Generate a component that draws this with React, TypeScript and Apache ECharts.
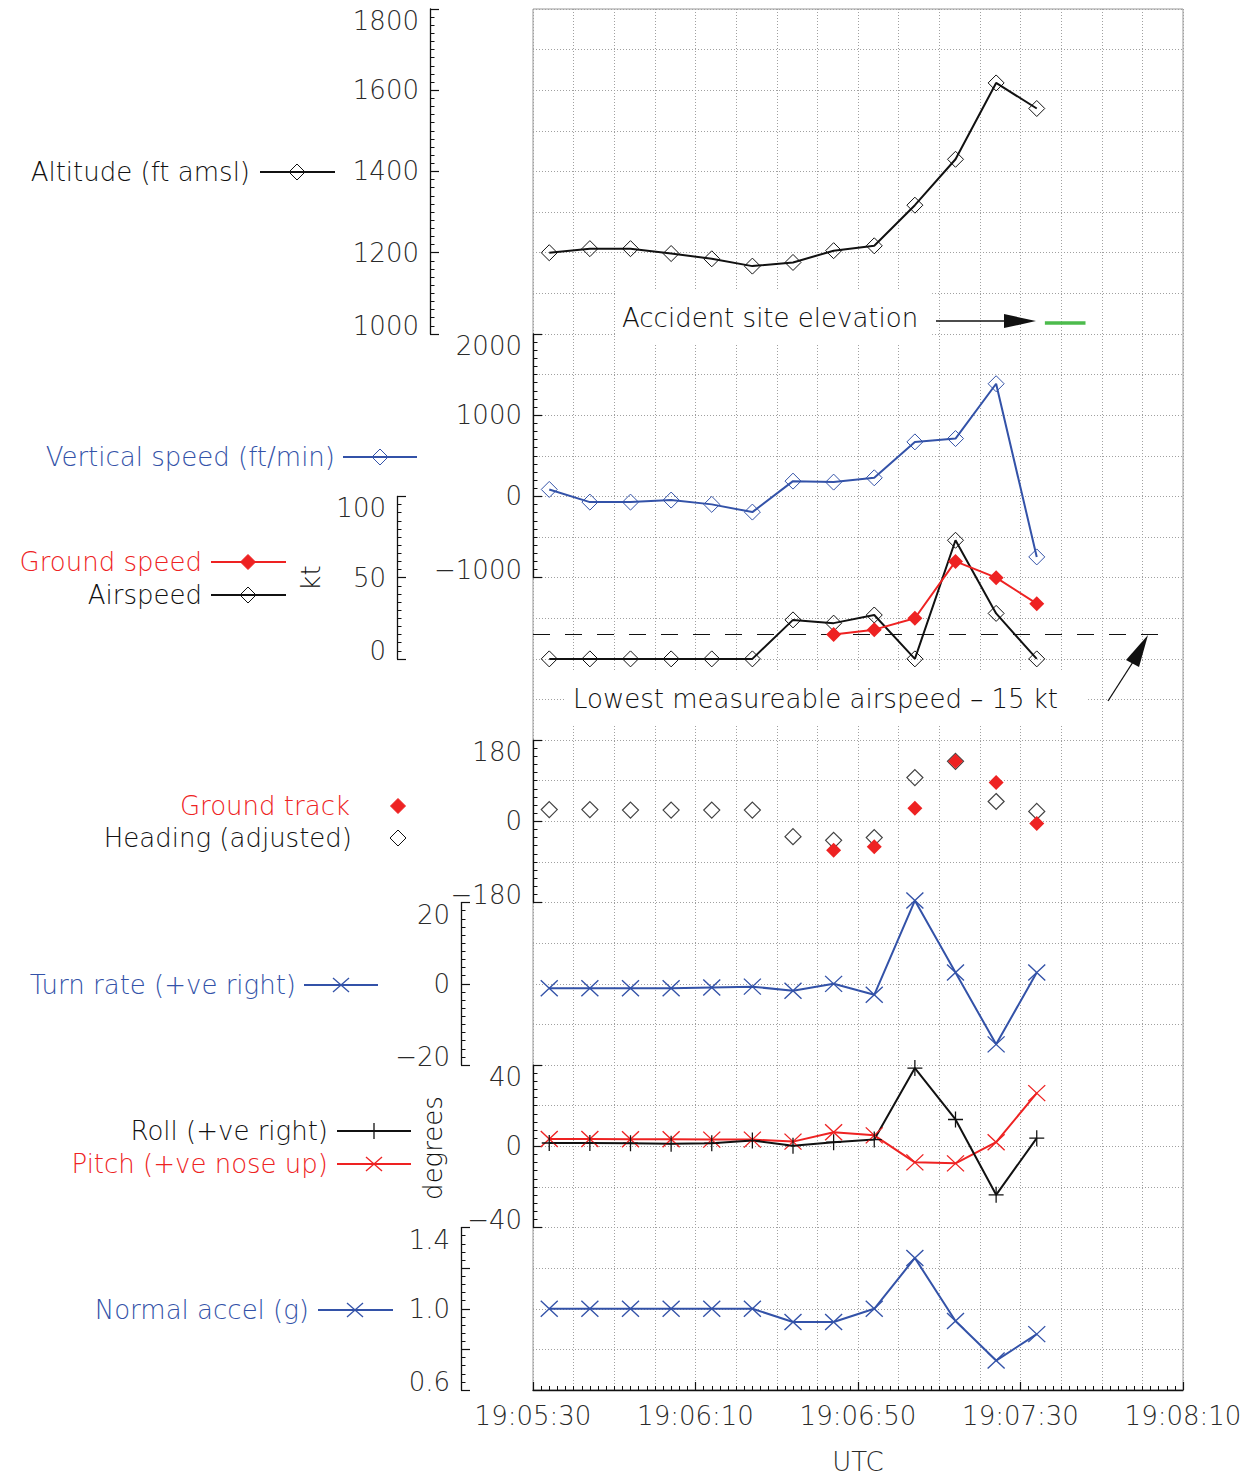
import React, { useEffect, useRef } from 'react';
import * as echarts from 'echarts';

// seconds after 19:05:30
const TIMES = [4, 14, 24, 34, 44, 54, 64, 74, 84, 94, 104, 114, 124];
const ALTITUDE = [1200, 1210, 1210, 1198, 1185, 1167, 1176, 1205, 1217, 1317, 1430, 1618, 1555];
const VERTICAL_SPEED = [86, -70, -70, -45, -98, -193, 188, 176, 229, 671, 712, 1387, -745];
const AIRSPEED = [0, 0, 0, 0, 0, 0, 24, 22, 27, 0, 73, 28, 0];
const GROUND_SPEED = [null, null, null, null, null, null, null, 15, 18, 25, 60, 50, 34];
const HEADING = [26, 26, 25, 25, 25, 25, -34, -42, -36, 97, 133, 44, 22];
const GROUND_TRACK = [null, null, null, null, null, null, null, -64, -56, 29, 133, 86, -5];
const TURN_RATE = [-1.1, -1.1, -1.1, -1.1, -0.9, -0.7, -1.7, 0, -2.7, 20.5, 2.8, -14.9, 2.8];
const ROLL = [1.6, 1.6, 1.5, 1.3, 1.5, 2.8, 0.3, 2.0, 3.3, 38.5, 13.2, -23.9, 4.0];
const PITCH = [3.6, 3.6, 3.5, 3.5, 3.3, 3.3, 2.3, 6.9, 5.4, -7.9, -8.4, 2.0, 26.2];
const NORMAL_ACCEL = [1.0, 1.0, 1.0, 1.0, 1.0, 1.0, 0.935, 0.935, 1.0, 1.25, 0.94, 0.745, 0.875];

const ACCIDENT_SITE_ELEVATION = 1027;
const ACCIDENT_SITE_TIMES = [126, 136];
const LOWEST_AIRSPEED = 15;
const LOWEST_AIRSPEED_TIMES = [0, 156];

const X_TICK_LABELS = ['19:05:30', '19:06:10', '19:06:50', '19:07:30', '19:08:10'];

const FONT = '"DejaVu Sans", sans-serif';
const FW = 200;
const FS = 26;
const BLACK = '#111111';
const BLUE = '#3352a8';
const RED = '#ee2222';
const GREEN = '#4cbb4c';
const LABEL = '#2a2a2a';

const W = 1255;
const H = 1477;
const PLOT_LEFT = 533;
const PLOT_RIGHT_EDGE = 1183;
const PLOT_TOP = 9;
const U = 1381 / 34;

const pairs = (vals: (number | null)[]) =>
  TIMES.map((t, i) => [t, vals[i]]).filter((p) => p[1] !== null && p[1] !== undefined);

const X_PATH = 'path://M0,0L16,15M16,0L0,15';
const PLUS_PATH = 'path://M8,0L8,16M0,8L16,8';

function makeGrid(topU: number, hU: number, extra: any = {}) {
  return {
    left: PLOT_LEFT,
    right: W - PLOT_RIGHT_EDGE,
    top: PLOT_TOP + topU * U,
    height: hU * U,
    containLabel: false,
    outerBoundsMode: 'none',
    ...extra,
  };
}

function makeY(
  gridIndex: number,
  min: number,
  max: number,
  interval: number,
  offset: number,
  minorSplit: number,
  fmt: (v: number) => string,
  showOnly?: number[]
) {
  const richBase = { fontSize: FS, fontFamily: FONT, fontWeight: FW, color: LABEL };
  return {
    type: 'value',
    gridIndex,
    min,
    max,
    interval,
    offset,
    position: 'left',
    axisLine: { show: true, onZero: false, lineStyle: { color: BLACK, width: 1.3 } },
    axisTick: { show: true, inside: true, length: 9, lineStyle: { color: BLACK, width: 1.2 } },
    minorTick: { show: true, splitNumber: minorSplit, length: 4.5, lineStyle: { color: BLACK, width: 1 } },
    splitLine: { show: false },
    axisLabel: {
      show: true,
      margin: 11,
      color: LABEL,
      fontSize: FS,
      fontFamily: FONT,
      fontWeight: FW,
      formatter: (v: number) => {
        if (showOnly && !showOnly.some((s) => Math.abs(s - v) < 1e-6)) return '';
        const s = fmt(v).replace('-', '\u2212');
        if (Math.abs(v - max) < 1e-6) return `{t|${s}}`;
        if (Math.abs(v - min) < 1e-6) return `{b|${s}}`;
        return s;
      },
      rich: {
        t: { ...richBase, padding: [24, 0, 0, 0] },
        b: { ...richBase, padding: [0, 0, 16, 0] },
      },
    },
  };
}

function hiddenX(gridIndex: number) {
  return { type: 'value', gridIndex, min: 0, max: 160, show: false, axisLine: { onZero: false } };
}

const hollow = (c: string) => ({ color: 'transparent', borderColor: c, borderWidth: 1 });

function txt(text: string, x: number, y: number, color: string, align = 'right', extra: any = {}, rotation = 0) {
  return {
    type: 'text',
    x,
    y,
    z: 50,
    rotation,
    style: {
      text,
      fill: color,
      font: `${FW} ${FS}px ${FONT}`,
      align,
      verticalAlign: 'middle',
      textAlign: align,
      textVerticalAlign: 'middle',
      ...extra,
    },
  };
}
function seg(x1: number, y1: number, x2: number, y2: number, color: string, w = 2) {
  return { type: 'line', z: 50, shape: { x1, y1, x2, y2 }, style: { stroke: color, lineWidth: w } };
}
function dia(x: number, y: number, color: string, filled: boolean, r = 8) {
  return {
    type: 'polygon',
    z: 51,
    shape: { points: [[x, y - r], [x + r, y], [x, y + r], [x - r, y]] },
    style: { fill: filled ? color : 'transparent', stroke: color, lineWidth: 1 },
  };
}
function cross(x: number, y: number, color: string) {
  return [seg(x - 8, y - 7, x + 8, y + 7, color, 1.3), seg(x - 8, y + 7, x + 8, y - 7, color, 1.3)];
}
function plus(x: number, y: number, color: string) {
  return [seg(x, y - 8, x, y + 8, color, 1.3), seg(x - 7, y, x + 7, y, color, 1.3)];
}

function buildOption() {
  const dotted = { color: '#a0a0a0', width: 1, type: [1, 2] };
  const grids = [
    makeGrid(0, 34, { show: true, borderColor: '#999999', borderWidth: 1, backgroundColor: 'transparent' }),
    makeGrid(0, 8),
    makeGrid(8, 6),
    makeGrid(12, 4),
    makeGrid(18, 4),
    makeGrid(22, 4),
    makeGrid(26, 4),
    makeGrid(30, 4),
  ];

  const xAxes: any[] = [
    {
      type: 'value', gridIndex: 0, min: 0, max: 160, interval: 10,
      axisLine: { show: false, onZero: false }, axisTick: { show: false }, axisLabel: { show: false },
      splitLine: { show: true, lineStyle: dotted },
    },
    hiddenX(1), hiddenX(2), hiddenX(3), hiddenX(4), hiddenX(5), hiddenX(6),
    {
      type: 'value', gridIndex: 7, min: 0, max: 160, interval: 40, position: 'bottom',
      axisLine: { show: true, onZero: false, lineStyle: { color: BLACK, width: 1.3 } },
      axisTick: { show: true, inside: true, length: 8, lineStyle: { color: BLACK, width: 1.2 } },
      minorTick: { show: true, splitNumber: 20, length: 4, lineStyle: { color: BLACK, width: 1 } },
      splitLine: { show: false },
      axisLabel: {
        show: true, margin: 13, color: LABEL, fontSize: FS, fontFamily: FONT, fontWeight: FW,
        formatter: (v: number) => X_TICK_LABELS[Math.round(v / 40)] ?? '',
      },
    },
  ];

  const yAxes: any[] = [
    {
      type: 'value', gridIndex: 0, min: 0, max: 34, interval: 1,
      axisLine: { show: false, onZero: false }, axisTick: { show: false }, axisLabel: { show: false },
      splitLine: { show: true, lineStyle: dotted },
    },
    makeY(1, 1000, 1800, 200, PLOT_LEFT - 430, 10, (v) => String(v)),
    makeY(2, -1000, 2000, 1000, 0, 10, (v) => String(v)),
    makeY(3, 0, 100, 50, PLOT_LEFT - 397, 10, (v) => String(v)),
    makeY(4, -180, 180, 180, 0, 10, (v) => String(v)),
    makeY(5, -20, 20, 20, PLOT_LEFT - 461, 10, (v) => String(v)),
    makeY(6, -40, 40, 40, 0, 10, (v) => String(v)),
    makeY(7, 0.6, 1.4, 0.2, PLOT_LEFT - 461, 5, (v) => v.toFixed(1), [0.6, 1.0, 1.4]),
  ];

  const lineBase = (ax: number, data: any[], color: string, extra: any = {}) => ({
    type: 'line', xAxisIndex: ax, yAxisIndex: ax, data, clip: false, animation: false,
    lineStyle: { color, width: 2 }, emphasis: { disabled: true }, ...extra,
  });

  const series: any[] = [
    lineBase(1, pairs(ALTITUDE), BLACK, { symbol: 'diamond', symbolSize: 16, itemStyle: hollow(BLACK) }),
    lineBase(1, ACCIDENT_SITE_TIMES.map((t) => [t, ACCIDENT_SITE_ELEVATION]), GREEN, {
      symbol: 'none', lineStyle: { color: GREEN, width: 3.5 },
    }),
    lineBase(2, pairs(VERTICAL_SPEED), BLUE, { symbol: 'diamond', symbolSize: 16, itemStyle: hollow(BLUE) }),
    lineBase(3, LOWEST_AIRSPEED_TIMES.map((t) => [t, LOWEST_AIRSPEED]), BLACK, {
      symbol: 'none', lineStyle: { color: BLACK, width: 1.2, type: [17, 15] },
    }),
    lineBase(3, pairs(AIRSPEED), BLACK, { symbol: 'diamond', symbolSize: 16, itemStyle: hollow(BLACK) }),
    lineBase(3, pairs(GROUND_SPEED), RED, { symbol: 'diamond', symbolSize: 15, itemStyle: { color: RED } }),
    {
      type: 'scatter', xAxisIndex: 4, yAxisIndex: 4, data: pairs(HEADING), clip: false,
      symbol: 'diamond', symbolSize: 16, itemStyle: { color: 'transparent', borderColor: BLACK, borderWidth: 1.2 },
      emphasis: { disabled: true },
    },
    {
      type: 'scatter', xAxisIndex: 4, yAxisIndex: 4, data: pairs(GROUND_TRACK), clip: false,
      symbol: 'diamond', symbolSize: 15, itemStyle: { color: RED, opacity: 1 }, emphasis: { disabled: true },
    },
    lineBase(5, pairs(TURN_RATE), BLUE, {
      symbol: X_PATH, symbolSize: [17, 16], itemStyle: { color: 'transparent', borderColor: BLUE, borderWidth: 1.3 },
    }),
    lineBase(6, pairs(PITCH), RED, {
      symbol: X_PATH, symbolSize: [17, 16], itemStyle: { color: 'transparent', borderColor: RED, borderWidth: 1.3 },
    }),
    lineBase(6, pairs(ROLL), BLACK, {
      symbol: PLUS_PATH, symbolSize: [15, 16], itemStyle: { color: 'transparent', borderColor: BLACK, borderWidth: 1.3 },
    }),
    lineBase(7, pairs(NORMAL_ACCEL), BLUE, {
      symbol: X_PATH, symbolSize: [17, 16], itemStyle: { color: 'transparent', borderColor: BLUE, borderWidth: 1.3 },
    }),
  ];

  const graphics: any[] = [
    // Altitude legend
    txt('Altitude (ft amsl)', 250, 172, BLACK),
    seg(260, 172, 335, 172, BLACK), dia(297, 172, BLACK, false),
    // Vertical speed legend
    txt('Vertical speed (ft/min)', 335, 457, BLUE),
    seg(343, 457, 417, 457, BLUE), dia(380, 457, BLUE, false),
    // Speeds
    txt('Ground speed', 202, 562, RED),
    seg(211, 562, 286, 562, RED), dia(248, 562, RED, true, 7.5),
    txt('Airspeed', 202, 595, BLACK),
    seg(211, 595, 286, 595, BLACK), dia(248, 595, BLACK, false),
    txt('kt', 311, 578, BLACK, 'center', {}, Math.PI / 2),
    // Heading
    txt('Ground track', 350, 806, RED),
    dia(398, 806, RED, true, 7.5),
    txt('Heading (adjusted)', 352, 838, BLACK),
    dia(398, 838, BLACK, false),
    // Turn rate
    txt('Turn rate (+ve right)', 296, 985, BLUE),
    seg(304, 985, 378, 985, BLUE), ...cross(341, 985, BLUE),
    // Roll / pitch
    txt('Roll (+ve right)', 328, 1131, BLACK),
    seg(337, 1131, 411, 1131, BLACK), ...plus(374, 1131, BLACK),
    txt('Pitch (+ve nose up)', 328, 1164, RED),
    seg(337, 1164, 411, 1164, RED), ...cross(374, 1164, RED),
    txt('degrees', 433, 1148, BLACK, 'center', {}, Math.PI / 2),
    // Normal accel
    txt('Normal accel (g)', 309, 1310, BLUE),
    seg(318, 1310, 393, 1310, BLUE), ...cross(355, 1310, BLUE),
    // UTC
    txt('UTC', 858, 1462, LABEL, 'center'),
    // Accident site annotation
    txt('Accident site elevation', 616, 318, BLACK, 'left', { backgroundColor: '#ffffff', padding: [14, 14, 14, 6] }),
    seg(936, 321, 1006, 321, BLACK, 1.5),
    { type: 'polygon', z: 52, shape: { points: [[1004, 314], [1036, 321], [1004, 328]] }, style: { fill: BLACK } },
    // Lowest airspeed annotation
    txt('Lowest measureable airspeed \u2013 15 kt', 565, 699, BLACK, 'left', { backgroundColor: '#ffffff', padding: [14, 30, 14, 8] }),
    seg(1108, 701, 1133, 662, BLACK, 1.3),
    { type: 'polygon', z: 52, shape: { points: [[1148, 635], [1126, 660], [1139, 667]] }, style: { fill: BLACK } },
  ];

  return {
    animation: false,
    backgroundColor: '#ffffff',
    textStyle: { fontFamily: FONT },
    grid: grids,
    xAxis: xAxes,
    yAxis: yAxes,
    series,
    graphic: { elements: graphics },
  };
}

export default function App() {
  const ref = useRef<HTMLDivElement>(null);
  useEffect(() => {
    document.body.style.margin = '0';
    if (!ref.current) return;
    const chart = echarts.init(ref.current, null, { renderer: 'svg', width: W, height: H });
    chart.setOption(buildOption() as any);
    return () => {
      chart.dispose();
    };
  }, []);
  return <div ref={ref} style={{ width: W, height: H }} />;
}
